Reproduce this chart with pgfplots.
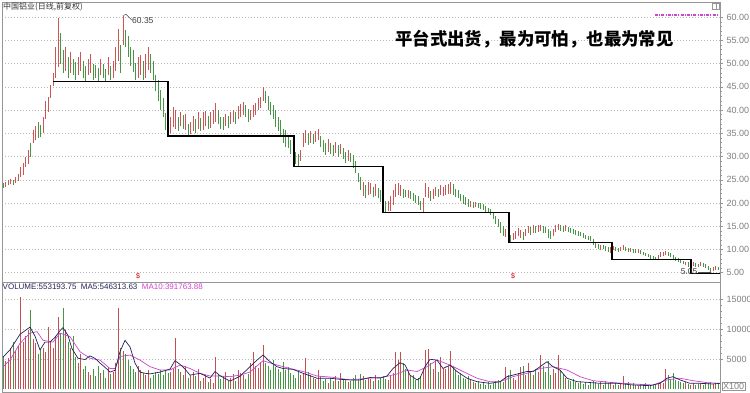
\documentclass[border=0pt]{standalone}
\usepackage{fontspec}
\setmainfont{Liberation Sans}
\newfontfamily\cjk{Noto Sans CJK SC}
\usepackage{pgfplots}
\usepackage{pgfplotstable}
\usetikzlibrary{arrows.meta}
\pgfplotsset{compat=1.18}
\definecolor{pr}{RGB}{205,85,85}
\definecolor{pg}{RGB}{70,150,70}
\definecolor{vr}{RGB}{195,80,80}
\definecolor{vg}{RGB}{70,150,70}
\definecolor{ma5}{RGB}{35,35,85}
\definecolor{ma10}{RGB}{205,70,205}
\definecolor{tk}{RGB}{128,128,128}
\definecolor{fr}{RGB}{150,150,150}
\pgfplotstableread{
i lo hi v c
0 23.3 24.3 5400 0
1 23.5 24.6 4800 1
2 23.8 24.9 5200 1
3 24.0 25.2 7000 1
4 23.9 25.0 7900 0
5 24.3 25.6 6500 1
6 24.8 26.2 7300 1
7 25.5 27.8 15400 1
8 26.0 28.6 8000 1
9 27.7 30.0 9000 1
10 28.5 31.5 9900 1
11 30.0 33.0 13200 0
12 32.9 35.7 8500 1
13 33.5 36.5 7700 1
14 34.0 37.4 6000 0
15 34.2 36.8 6800 0
16 35.0 38.5 7000 1
17 38.0 42.0 6200 1
18 39.5 42.8 10400 1
19 42.6 45.4 8000 1
20 45.2 48.0 7000 1
21 47.0 53.6 9000 1
22 49.3 59.8 12100 1
23 50.0 56.6 9500 0
24 48.0 52.9 13600 0
25 48.5 53.5 10000 1
26 47.0 51.5 8000 0
27 48.0 52.5 7000 1
28 47.5 51.0 9000 0
29 46.5 50.4 5500 0
30 47.5 51.5 4500 1
31 48.5 52.5 6000 1
32 47.0 50.5 3500 0
33 46.3 49.5 4000 0
34 47.5 51.0 3000 1
35 48.0 52.0 2500 1
36 46.5 50.0 3500 0
37 47.0 49.8 2200 0
38 46.3 49.0 4000 0
39 47.5 51.0 2800 1
40 46.8 50.0 3200 0
41 46.2 48.8 2000 0
42 47.5 51.5 3800 1
43 46.5 49.5 2600 0
44 47.0 50.5 3000 1
45 48.5 53.5 4500 1
46 50.5 57.5 13600 1
47 48.0 54.0 7000 0
48 54.0 60.35 6500 1
49 53.6 57.2 6000 0
50 51.5 56.0 5000 0
51 49.5 53.5 4000 0
52 48.2 52.9 3500 0
53 46.4 50.1 3000 0
54 47.0 51.5 4000 1
55 47.5 51.8 3200 1
56 46.5 50.5 2800 0
57 47.0 52.0 2500 1
58 48.6 53.6 3300 1
59 48.0 52.0 2000 0
60 46.5 50.5 2400 0
61 44.0 47.5 3000 0
62 42.0 46.4 2600 0
63 40.0 44.3 3200 0
64 38.5 42.5 2500 0
65 35.7 39.3 3300 0
66 34.4 37.2 2800 0
67 35.0 38.5 3000 1
68 36.4 40.6 3500 1
69 36.0 40.0 8600 1
70 35.5 38.5 3500 0
71 36.5 39.5 3000 1
72 36.0 39.0 2500 0
73 35.8 39.2 4000 1
74 34.3 37.0 2000 0
75 34.8 37.5 2500 1
76 35.5 38.8 3000 1
77 35.0 38.0 2200 0
78 36.0 39.5 3500 1
79 35.5 38.2 1500 0
80 35.8 39.5 2000 1
81 36.5 39.8 2400 1
82 36.0 38.8 1200 0
83 36.2 39.5 1800 1
84 37.0 40.0 1000 1
85 37.4 41.5 5400 1
86 37.0 40.0 2500 0
87 36.0 38.5 1800 0
88 35.8 38.5 2200 0
89 36.5 39.2 3000 1
90 36.2 38.8 1500 0
91 37.0 39.5 2000 1
92 37.5 40.0 2600 1
93 37.0 39.5 1400 0
94 38.0 40.8 3300 1
95 38.5 41.2 2800 1
96 39.0 41.7 2400 1
97 38.5 41.0 1800 0
98 37.5 40.2 2600 0
99 37.8 40.0 4500 1
100 38.5 41.0 6300 1
101 39.0 41.5 4000 1
102 40.0 42.5 3600 1
103 40.5 42.8 4600 1
104 42.0 44.9 7400 1
105 41.5 44.0 4500 0
106 40.0 43.0 4000 0
107 39.0 41.8 3300 0
108 38.0 41.0 4900 0
109 36.4 40.0 3800 0
110 35.5 38.5 3500 0
111 34.2 37.8 3000 0
112 33.0 36.0 4600 0
113 32.0 35.7 3200 0
114 31.8 34.5 3800 0
115 30.5 33.5 2800 0
116 28.8 31.4 2500 0
117 28.5 31.0 2000 0
118 27.8 30.5 3000 0
119 29.0 31.5 2400 1
120 32.0 35.0 2800 1
121 33.0 35.7 5200 1
122 32.5 35.0 3000 0
123 33.0 35.5 2500 1
124 32.8 34.8 2000 0
125 33.2 35.4 1800 1
126 33.5 36.0 3300 1
127 32.0 34.5 2200 0
128 31.0 33.5 1500 0
129 30.3 33.0 1800 0
130 31.0 33.8 1000 1
131 30.5 33.0 2000 0
132 30.2 32.5 1500 0
133 30.8 33.2 2200 1
134 30.0 32.4 1400 0
135 30.5 32.8 2700 1
136 29.5 31.8 1600 0
137 28.6 31.0 1800 0
138 29.0 31.5 1200 1
139 28.8 30.8 1500 0
140 27.5 30.3 2000 0
141 26.5 29.0 2400 0
142 24.5 26.5 1800 0
143 22.8 25.5 2600 0
144 21.5 24.5 2200 1
145 21.0 23.8 1600 0
146 21.8 24.5 2000 1
147 22.0 24.2 1800 1
148 21.2 23.5 1500 0
149 21.5 24.0 2500 1
150 21.0 23.2 1600 0
151 20.2 22.8 2000 0
152 19.0 21.3 2200 0
153 18.0 20.5 1800 0
154 18.2 20.5 1600 1
155 18.3 21.5 2400 1
156 19.5 22.7 2800 1
157 21.3 24.0 6300 1
158 21.8 24.3 5000 1
159 21.5 23.8 6300 1
160 21.0 23.0 4400 0
161 21.2 22.8 3500 0
162 21.0 22.7 3000 1
163 20.8 22.5 2200 0
164 20.5 22.2 2500 0
165 20.0 21.8 1600 0
166 19.5 21.5 2000 0
167 18.5 20.5 2200 0
168 17.9 21.0 3500 1
169 21.3 24.3 6600 1
170 21.0 23.5 6750 1
171 20.5 22.5 4500 0
172 20.8 23.0 3500 1
173 21.5 23.5 5000 1
174 21.2 23.0 3000 0
175 21.8 23.8 5500 1
176 21.5 23.5 3500 1
177 21.8 23.8 3500 1
178 22.0 24.0 4000 1
179 22.0 24.5 6500 1
180 21.7 24.0 4000 0
181 21.2 23.0 3300 0
182 21.0 22.8 2500 0
183 20.5 22.0 2800 0
184 19.8 21.7 2000 0
185 19.5 21.2 1800 0
186 19.1 20.8 2200 0
187 19.2 20.5 1600 1
188 19.0 20.2 1200 0
189 19.2 20.3 1000 1
190 19.0 20.0 1500 0
191 18.8 20.0 900 0
192 18.5 19.8 1100 0
193 18.0 19.3 800 0
194 18.0 19.0 1200 0
195 17.5 18.8 700 0
196 16.5 18.0 1000 0
197 15.5 17.2 1400 0
198 14.8 16.5 1600 0
199 13.5 15.9 1500 0
200 13.0 15.0 1200 0
201 12.6 14.5 3750 1
202 12.2 14.2 2500 0
203 11.6 13.2 3300 0
204 12.0 13.5 2000 1
205 12.3 14.0 1600 1
206 12.8 14.6 2800 1
207 12.5 14.2 3700 1
208 12.0 13.8 4000 0
209 12.8 14.5 2500 1
210 13.5 15.0 4400 1
211 13.2 14.8 3000 0
212 13.6 15.2 2500 1
213 13.5 15.0 3500 0
214 13.8 15.2 3000 1
215 14.0 15.3 5700 1
216 13.6 15.0 4000 0
217 13.5 14.8 3000 0
218 12.5 14.5 4800 0
219 12.3 14.0 2500 0
220 12.8 14.5 3500 1
221 13.8 15.2 2800 1
222 14.2 15.5 5700 1
223 14.0 15.2 3300 0
224 13.8 15.0 2600 0
225 13.9 15.2 2000 1
226 13.8 14.8 1600 0
227 13.6 14.6 1400 0
228 13.4 14.4 1800 0
229 13.2 14.2 1300 0
230 13.0 14.0 1000 0
231 12.8 13.8 1400 0
232 12.5 13.5 900 0
233 12.3 13.2 1200 0
234 12.0 13.0 800 0
235 11.8 12.8 1300 0
236 11.0 12.2 1500 0
237 10.4 11.6 1200 0
238 10.0 11.2 900 0
239 9.8 11.0 1300 1
240 10.0 11.0 800 0
241 9.6 10.8 1400 0
242 9.5 10.5 1000 0
243 9.3 10.6 1200 1
244 9.8 10.8 700 1
245 9.6 10.5 1000 0
246 9.5 10.4 800 0
247 9.6 10.6 1100 1
248 9.8 11.0 2200 1
249 9.6 10.5 900 0
250 9.4 10.3 1200 0
251 9.5 10.4 700 1
252 9.3 10.2 1000 0
253 9.2 10.0 800 0
254 9.3 10.1 600 1
255 9.0 9.8 900 0
256 8.8 9.5 700 0
257 8.5 9.3 1000 0
258 8.3 9.0 800 0
259 8.0 8.8 600 0
260 7.8 8.5 700 0
261 7.7 8.4 900 0
262 8.0 8.9 1000 1
263 8.4 9.4 1200 1
264 8.6 9.5 1100 1
265 8.8 9.6 3500 1
266 8.6 9.4 2500 0
267 8.4 9.2 1800 0
268 8.0 8.8 2800 0
269 7.6 8.4 1600 0
270 7.2 8.1 1500 0
271 7.0 7.8 1200 0
272 6.8 7.6 1000 0
273 6.6 7.4 1300 1
274 6.3 7.2 900 0
275 6.4 7.3 800 1
276 6.5 7.2 1100 1
277 6.3 7.0 700 0
278 6.2 6.9 900 0
279 6.4 7.3 1000 1
280 6.3 7.0 800 0
281 6.0 6.8 1200 0
282 5.5 6.5 1000 0
283 5.05 6.0 1300 0
284 5.4 6.3 900 1
285 5.6 6.5 1100 1
286 5.5 6.3 900 0
}\data
\begin{document}
\begin{tikzpicture}
\path[use as bounding box, fill=white] (0,0) rectangle (750bp,393bp);
% ---------- price panel ----------
\begin{axis}[
  at={(2bp,111bp)}, anchor=south west, scale only axis,
  width=718bp, height=280bp,
  xmin=-0.4, xmax=286.8, ymin=3.0, ymax=63.26,
  axis line style={draw=fr, line width=0.6bp},
  xtick=\empty,
  ytick={5,10,...,60}, ytick pos=right, yticklabel pos=right,
  minor y tick num=4, tick align=outside,
  major tick length=3bp, minor tick length=1.8bp,
  every tick/.style={draw=fr, line width=0.5bp},
  unbounded coords=discard,
  /pgf/number format/assume math mode=true,
  /pgf/number format/fixed, /pgf/number format/fixed zerofill,
  /pgf/number format/precision=2,
  yticklabel style={font=\fontsize{9bp}{10bp}\selectfont, text=tk},
  ymajorgrids, major grid style={draw=gray!55, line width=0.5bp, dash pattern=on 1bp off 2bp},
  clip=false,
]
\addplot[draw=none, mark=none,
  error bars/.cd, y dir=plus, y explicit, error mark=none,
  error bar style={draw=pr, line width=0.8bp}]
  table[x=i, y expr={\thisrow{c}>0.5 ? \thisrow{lo} : nan},
        y error plus expr={\thisrow{hi}-\thisrow{lo}}] {\data};
\addplot[draw=none, mark=none,
  error bars/.cd, y dir=plus, y explicit, error mark=none,
  error bar style={draw=pg, line width=0.8bp}]
  table[x=i, y expr={\thisrow{c}<0.5 ? \thisrow{lo} : nan},
        y error plus expr={\thisrow{hi}-\thisrow{lo}}] {\data};
% platform steps
\addplot[black, line width=1.4bp, mark=none] coordinates {
 (20,46.2) (66,46.2) (66,34.4) (116.4,34.4) (116.4,27.9) (152,27.9)
 (152,17.9) (202.4,17.9) (202.4,11.45) (243.6,11.45) (243.6,7.9)
 (275.2,7.9) (275.2,4.87) (286.8,4.87)};
% high / low markers
\draw[black!70, line width=0.5bp] (axis cs:48,60.35) -- (axis cs:49.2,60.6) -- (axis cs:51.5,59.4);
\node[anchor=west, inner sep=0pt, text=black!75, font=\fontsize{8.5bp}{9bp}\selectfont] at (axis cs:51.6,59.3) {60.35};
\node[anchor=east, inner sep=0pt, text=black!75, font=\fontsize{8.5bp}{9bp}\selectfont] at (axis cs:277.8,5.35) {5.05};
\draw[black!70, line width=0.5bp, -{Latex[length=2.5bp]}] (axis cs:278,5.05) -- (axis cs:283.6,5.05);
\end{axis}
% ---------- volume panel ----------
\begin{axis}[
  at={(2bp,1bp)}, anchor=south west, scale only axis,
  width=718bp, height=110bp,
  xmin=-0.4, xmax=286.8, ymin=-417, ymax=17920,
  axis line style={draw=fr, line width=0.6bp},
  xtick=\empty,
  ytick={5000,10000,15000}, ytick pos=right, yticklabel pos=right,
  minor y tick num=4, tick align=outside,
  major tick length=3bp, minor tick length=1.8bp,
  every tick/.style={draw=fr, line width=0.5bp},
  scaled y ticks=false,
  unbounded coords=discard,
  /pgf/number format/assume math mode=true,
  /pgf/number format/fixed, /pgf/number format/1000 sep={},
  yticklabel style={font=\fontsize{9bp}{10bp}\selectfont, text=tk},
  ymajorgrids, major grid style={draw=gray!55, line width=0.5bp, dash pattern=on 1bp off 2bp},
]
\addplot[ycomb, draw=vr, line width=0.8bp, mark=none]
  table[x=i, y expr={\thisrow{c}>0.5 ? \thisrow{v} : nan}] {\data};
\addplot[ycomb, draw=vg, line width=0.8bp, mark=none]
  table[x=i, y expr={\thisrow{c}<0.5 ? \thisrow{v} : nan}] {\data};
% MA10
\addplot[ma10, line width=0.7bp, mark=none] coordinates {
 (0,3800) (2.8,4900) (6.8,7700) (10.8,9400) (13.6,9650) (16,8200) (20,7900)
 (22.8,9400) (26.8,8800) (30.8,6300) (34.8,5200) (38.8,4900) (42.8,3500)
 (44.8,3500) (46.8,5500) (50.8,5750) (54.8,4900) (58.8,3800) (62.8,3250)
 (66.8,3250) (70.8,4080) (74.8,3500) (78.8,2700) (82.8,2250) (86.8,2250)
 (90.8,2140) (94.8,2400) (98.8,2900) (104,4800) (109.6,4080) (114.8,3500)
 (120,3000) (125.6,2250) (131.6,2050) (138.8,1600) (146.8,1900) (152,2050)
 (157.6,2580) (161.6,3250) (165.6,3000) (169.6,3800) (173.6,4900) (178.8,4080)
 (184,3000) (189.6,1880) (194.8,1300) (198.8,1300) (204,2140) (209.6,2700)
 (214.8,3500) (220,3800) (225.6,3250) (230.8,2140) (236,1470) (244,1150)
 (252,920) (260,750) (265.6,1600) (270.8,1880) (276,1470) (281.6,1150) (286.8,1030)};
% MA5
\addplot[ma5, line width=0.7bp, mark=none] coordinates {
 (0,5400) (2.8,6600) (6.8,9200) (10.8,10400) (12.8,8900) (14.8,6600) (16.8,7900)
 (18.8,7900) (20.8,8700) (22.8,9800) (24,10300) (26,9000) (27.6,6800) (30,5200)
 (32.8,5000) (34.8,5600) (36.8,5200) (38.8,4400) (40.8,3700) (42.8,2900)
 (44.8,3200) (46.8,6300) (48.8,8200) (50.8,7100) (52.8,4400) (54.8,2900)
 (56.8,2700) (58.8,2600) (62.8,2900) (66.8,3400) (68.8,4800) (70.8,4200)
 (72.8,3400) (74.8,2400) (78.8,2700) (82.8,1900) (84.8,3000) (86.8,2300)
 (90.8,1400) (94.8,2200) (98.8,3800) (101.6,4900) (104,5750) (106.8,4630)
 (109.6,3800) (112,3500) (116,3360) (120,2700) (125.6,1880) (130.8,1880)
 (134.8,1700) (138.8,1600) (142.8,1600) (146.8,2000) (150.8,1900) (153.6,2250)
 (156,3500) (158.8,4470) (160.8,4100) (162.8,2400) (165.6,1600) (166.8,1900)
 (168.8,3800) (170.8,5040) (173.6,4900) (176,3500) (178.8,4080) (181.6,3000)
 (185.6,1880) (189.6,1300) (194.8,1030) (198.8,1300) (201.6,2140) (204,2400)
 (206.8,2700) (209.6,3000) (212,2980) (214.8,3800) (217.6,4630) (220,3800)
 (222.8,3250) (225.6,1880) (229.6,1300) (233.6,1200) (238.8,1030) (245.6,1030)
 (252,750) (258.8,640) (262.8,1030) (265.6,1880) (268,2140) (270.8,1600)
 (274.8,1030) (278.8,1030) (284,920) (286.8,1030)};
\end{axis}
% ---------- texts ----------
\node[anchor=west, inner sep=0pt, text=black!80, font=\cjk\fontsize{8bp}{9bp}\selectfont] at (3bp,386.5bp) {中国铝业(日线,前复权)};
\node[anchor=west, inner sep=0pt, text=black, font=\cjk\bfseries\fontsize{17.4bp}{18bp}\selectfont] at (395bp,354bp) {平台式出货，最为可怕，也最为常见};
\node[anchor=west, inner sep=0pt, font=\fontsize{8bp}{9bp}\selectfont] at (2.5bp,106bp) {\textcolor{ma5}{VOLUME:553193.75\ \ MA5:546313.63}\ \ \textcolor{ma10}{MA10:391763.88}};
\node[inner sep=0pt, text=red!80!black, font=\fontsize{7bp}{8bp}\selectfont] at (138bp,117bp) {\$};
\node[inner sep=0pt, text=red!80!black, font=\fontsize{7bp}{8bp}\selectfont] at (513bp,117bp) {\$};
\draw[ma10, line width=2bp, dash pattern=on 3bp off 1.2bp on 1bp off 1.2bp] (655bp,378bp) -- (718bp,378bp);
\draw[fr, line width=0.5bp] (712bp,383.5bp) rectangle (719bp,389.5bp);
\draw[fr, line width=0.5bp] (716bp,383.5bp) -- (716bp,389.5bp);
\node[anchor=west, draw=fr, line width=0.5bp, inner sep=0.8bp, text=tk, font=\fontsize{9bp}{10bp}\selectfont] at (722bp,7bp) {X100};
\end{tikzpicture}
\end{document}
